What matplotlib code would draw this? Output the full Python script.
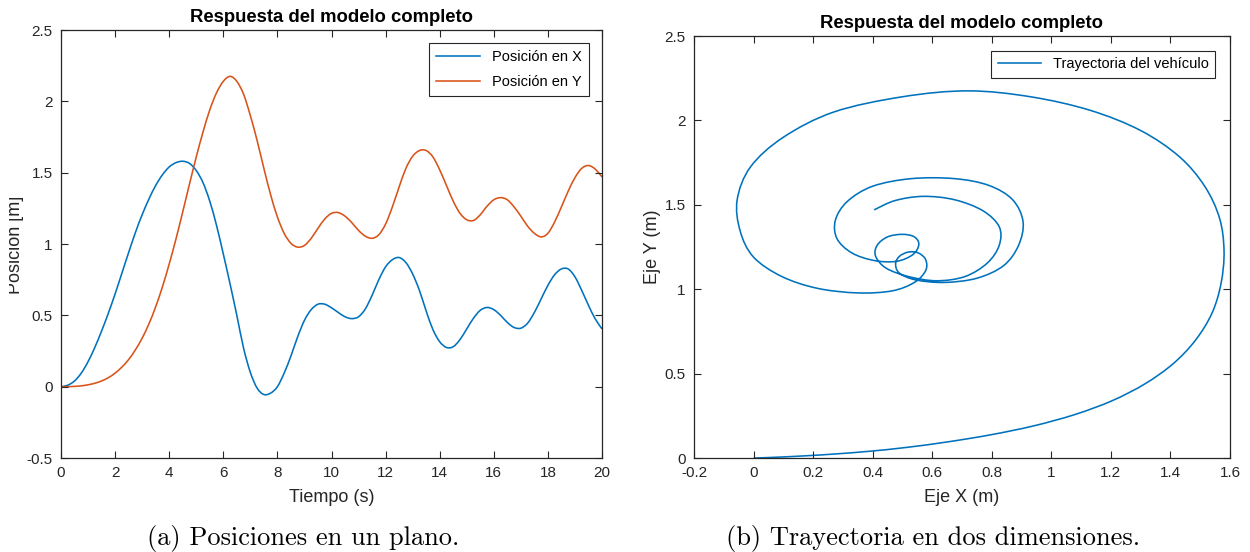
import numpy as np
import matplotlib
matplotlib.use("Agg")
import matplotlib.pyplot as plt
from matplotlib.path import Path
from matplotlib.patches import PathPatch
from matplotlib.lines import Line2D
from matplotlib.transforms import Bbox, TransformedBbox

# ---- data: vehicle position sampled every 0.25 s ----
t_step = 0.25
pos_x = [
    0.00, 0.01, 0.04, 0.095, 0.175, 0.275, 0.39, 0.515, 0.65, 0.795,
    0.94, 1.08, 1.205, 1.315, 1.41, 1.485, 1.54, 1.57, 1.58, 1.565,
    1.515, 1.43, 1.30, 1.13, 0.93, 0.72, 0.50, 0.27, 0.10, -0.01,
    -0.055, -0.045, 0.0, 0.095, 0.215, 0.35, 0.465, 0.54, 0.578, 0.578,
    0.553, 0.52, 0.49, 0.477, 0.49, 0.545, 0.64, 0.75, 0.84, 0.89,
    0.905, 0.87, 0.79, 0.675, 0.53, 0.40, 0.315, 0.275, 0.28, 0.33,
    0.405, 0.48, 0.535, 0.555, 0.54, 0.50, 0.45, 0.415, 0.41, 0.445,
    0.52, 0.615, 0.71, 0.785, 0.825, 0.825, 0.77, 0.675, 0.57, 0.475,
    0.405,
]
pos_y = [
    0.00, 0.00, 0.002, 0.006, 0.013, 0.024, 0.04, 0.063, 0.095, 0.137,
    0.19, 0.258, 0.34, 0.44, 0.56, 0.70, 0.86, 1.035, 1.225, 1.42,
    1.61, 1.785, 1.94, 2.06, 2.14, 2.175, 2.14, 2.05, 1.90, 1.725,
    1.53, 1.345, 1.19, 1.075, 1.005, 0.978, 0.99, 1.04, 1.11, 1.175,
    1.215, 1.22, 1.195, 1.15, 1.095, 1.055, 1.04, 1.065, 1.14, 1.26,
    1.40, 1.53, 1.615, 1.655, 1.655, 1.61, 1.52, 1.41, 1.30, 1.215,
    1.17, 1.165, 1.205, 1.265, 1.31, 1.325, 1.31, 1.26, 1.195, 1.125,
    1.075, 1.05, 1.075, 1.155, 1.26, 1.37, 1.465, 1.53, 1.55, 1.525,
    1.47,
]
time = np.arange(len(pos_x)) * t_step

left_xticks = list(range(0, 21, 2))
left_yticks = [-0.5, 0, 0.5, 1, 1.5, 2, 2.5]
right_xticks = [-0.2, 0, 0.2, 0.4, 0.6, 0.8, 1.0, 1.2, 1.4, 1.6]
right_yticks = [0, 0.5, 1, 1.5, 2, 2.5]

title = "Respuesta del modelo completo"
blue = "#0072BD"
orange = "#D95319"
frame = "#262626"
LW = 1.15

plt.rcParams["font.family"] = ["Liberation Sans", "DejaVu Sans"]

W, H = 1250, 552
fig = plt.figure(figsize=(W / 100, H / 100), dpi=100)


def smooth_path(xs, ys):
    """Cubic path passing through every sample (Catmull-Rom tangents)."""
    p = np.column_stack([xs, ys]).astype(float)
    ext = np.vstack([p[0], p, p[-1]])
    verts = [p[0]]
    codes = [Path.MOVETO]
    for i in range(len(p) - 1):
        a, b, c, d = ext[i], ext[i + 1], ext[i + 2], ext[i + 3]
        verts += [b + (c - a) / 6.0, c - (d - b) / 6.0, c]
        codes += [Path.CURVE4] * 3
    return Path(verts, codes)


def draw_curve(ax, xs, ys, color):
    ax.add_patch(PathPatch(smooth_path(xs, ys), facecolor="none",
                           edgecolor=color, lw=LW, capstyle="butt",
                           joinstyle="round"))


def style_axes(ax, xt, yt):
    ax.set_xticks(xt)
    ax.set_yticks(yt)
    ax.set_xticklabels([f"{v:g}" for v in xt])
    ax.set_yticklabels([f"{v:g}" for v in yt])
    ax.tick_params(direction="in", top=True, right=True, length=5,
                   width=0.8, color=frame, labelsize=11, labelcolor=frame)
    ax.tick_params(axis="x", pad=6)
    ax.tick_params(axis="y", pad=6)
    for s in ax.spines.values():
        s.set_color(frame)
        s.set_linewidth(0.9)
    ax.set_title(title, fontsize=13.3, fontweight="bold", pad=6, color="black")


leg_kw = dict(loc="upper right", fontsize=10.5, fancybox=False,
              edgecolor=frame, framealpha=1, handlelength=3.0,
              handletextpad=0.8)

# ---- left: positions against time ----
ax1 = fig.add_axes([61 / W, 94 / H, 541 / W, 428 / H])
draw_curve(ax1, time, pos_x, blue)
draw_curve(ax1, time, pos_y, orange)
ax1.set_xlim(0, 20)
ax1.set_ylim(-0.5, 2.5)
style_axes(ax1, left_xticks, left_yticks)
ax1.set_xlabel("Tiempo (s)", fontsize=13, color=frame, labelpad=6.5)
leg1 = ax1.legend(handles=[Line2D([], [], color=blue, lw=LW),
                           Line2D([], [], color=orange, lw=LW)],
                  labels=["Posición en X", "Posición en Y"],
                  borderaxespad=0.9, labelspacing=0.7, borderpad=0.5, **leg_kw)
leg1.get_frame().set_linewidth(0.8)

# y label of the left panel, cut by the left border of its frame
ylab = fig.text(24 / W, (H - 245) / H, "Posición [m]", rotation=90,
                ha="right", va="center", fontsize=13, color=frame)
ylab.set_clip_box(TransformedBbox(Bbox.from_extents(9 / W, 0, 1, 1),
                                  fig.transFigure))
ylab.set_clip_on(True)

# ---- right: trajectory in the plane ----
ax2 = fig.add_axes([694 / W, 94 / H, 536 / W, 422 / H])
draw_curve(ax2, pos_x, pos_y, blue)
ax2.set_xlim(-0.2, 1.6)
ax2.set_ylim(0, 2.5)
style_axes(ax2, right_xticks, right_yticks)
ax2.set_xlabel("Eje X (m)", fontsize=13, color=frame, labelpad=6.5)
ax2.set_ylabel("Eje Y (m)", fontsize=13, color=frame, labelpad=2.5)
leg2 = ax2.legend(handles=[Line2D([], [], color=blue, lw=LW)],
                  labels=["Trayectoria del vehículo"],
                  borderaxespad=1.0, borderpad=0.45, **leg_kw)
leg2.get_frame().set_linewidth(0.8)

# ---- sub-captions ----
cap_kw = dict(ha="center", va="baseline", fontsize=19, family="cmr10")
fig.text(303 / W, (H - 545) / H, "(a) Posiciones en un plano.", **cap_kw)
fig.text(933 / W, (H - 545) / H, "(b) Trayectoria en dos dimensiones.", **cap_kw)

fig.savefig("out.png", dpi=100, facecolor="white")
